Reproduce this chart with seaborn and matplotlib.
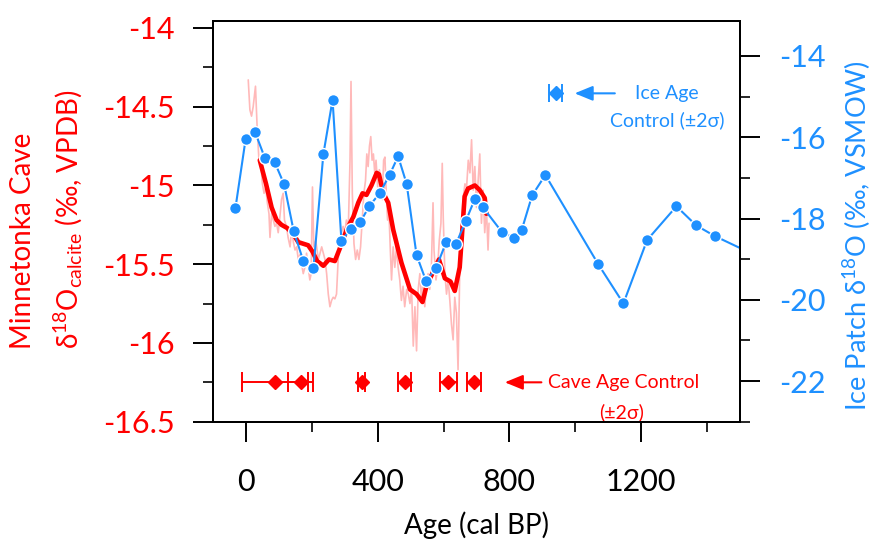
import numpy as np
import pandas as pd
import matplotlib
matplotlib.use("Agg")
import matplotlib.pyplot as plt
import seaborn as sns

sns.set_style("ticks")
plt.rcParams["font.family"] = ["Lato", "DejaVu Sans"]
plt.rcParams["axes.unicode_minus"] = False
plt.rcParams["mathtext.fontset"] = "custom"
plt.rcParams["mathtext.rm"] = "Lato"
plt.rcParams["mathtext.it"] = "Lato:italic"
plt.rcParams["mathtext.bf"] = "Lato:bold"
plt.rcParams["mathtext.sf"] = "Lato"
plt.rcParams["mathtext.fallback"] = "stixsans"

RED = "#FF0000"
PINK = "#FFB9B9"
BLUE = "#1E90FF"

# ---------------- data ----------------
cave_raw_age = [7, 12, 17, 22, 29, 34, 39, 45, 50, 55,
                60, 65, 70, 73, 78, 83, 88, 93, 98, 103,
                108, 113, 117, 123, 128, 134, 139, 144, 149, 154,
                159, 164, 169, 174, 179, 184, 189, 194, 198, 202,
                206, 212, 220, 225, 230, 235, 240, 245, 250, 255,
                260, 265, 270, 275, 280, 285, 290, 295, 300, 305,
                311, 316, 319, 323, 328, 333, 338, 343, 348, 353,
                358, 363, 367, 371, 375, 379, 383, 387, 391, 395,
                400, 405, 410, 414, 418, 422, 426, 430, 434, 438,
                442, 447, 452, 457, 462, 467, 472, 477, 482, 488,
                493, 498, 503, 508, 513, 518, 523, 528, 533, 538,
                543, 548, 553, 558, 563, 568, 571, 577, 582, 587,
                592, 596, 599, 604, 609, 614, 619, 624, 629, 634,
                639, 644, 649, 654, 659, 665, 670, 675, 680, 685,
                690, 695, 700, 705, 710, 715, 720, 725, 730, 735,
                738]
cave_raw_d18o = [-14.33, -14.52, -14.56, -14.50, -14.37, -14.63, -14.82, -14.86, -14.99, -15.05,
                 -15.01, -15.11, -15.18, -15.33, -15.18, -15.22, -15.26, -15.24, -15.30, -15.20,
                 -15.09, -15.05, -15.22, -15.26, -15.33, -15.39, -15.28, -15.36, -15.41, -15.39,
                 -15.47, -15.44, -15.50, -15.56, -15.52, -15.43, -15.52, -15.60, -15.56, -15.01,
                 -15.39, -15.35, -15.47, -15.43, -15.39, -15.43, -15.47, -15.56, -15.69, -15.77,
                 -15.73, -15.71, -15.72, -15.69, -15.47, -15.37, -15.30, -15.26, -15.30, -15.22,
                 -15.26, -14.84, -14.34, -15.05, -15.37, -15.47, -15.41, -15.47, -15.39, -15.22,
                 -15.05, -14.97, -14.80, -14.88, -14.75, -14.69, -14.84, -14.80, -14.92, -14.84,
                 -15.01, -14.90, -14.97, -15.09, -14.84, -14.82, -15.05, -15.22, -15.16, -15.39,
                 -15.60, -15.39, -15.52, -15.39, -15.52, -15.60, -15.73, -15.64, -15.77, -15.66,
                 -15.69, -15.75, -15.66, -16.02, -15.77, -16.05, -15.66, -15.56, -15.73, -15.60,
                 -15.77, -15.64, -15.56, -15.66, -15.52, -15.11, -15.41, -15.60, -15.52, -15.35,
                 -15.24, -14.86, -15.20, -15.56, -15.69, -15.60, -15.73, -15.88, -15.98, -15.71,
                 -15.81, -16.17, -15.56, -15.35, -15.09, -14.99, -15.01, -14.84, -14.92, -14.71,
                 -15.03, -14.88, -15.14, -14.97, -14.80, -15.24, -15.03, -15.30, -15.14, -15.41,
                 -15.24]

cave_smooth_age = [42, 61, 78, 93, 108, 125, 144, 159, 174, 189,
                   202, 216, 235, 252, 270, 285, 306, 326, 341, 354,
                   366, 381, 397, 404, 417, 432, 447, 472, 498, 518,
                   536, 548, 568, 586, 604, 621, 634, 649, 664, 674,
                   695, 710, 725, 730]
cave_smooth_d18o = [-14.84, -14.99, -15.14, -15.22, -15.25, -15.27, -15.31, -15.36, -15.37, -15.38,
                    -15.42, -15.48, -15.51, -15.47, -15.48, -15.40, -15.28, -15.20, -15.11, -15.05,
                    -15.06, -15.00, -14.92, -14.93, -15.05, -15.11, -15.28, -15.49, -15.66, -15.69,
                    -15.74, -15.64, -15.55, -15.47, -15.59, -15.61, -15.67, -15.52, -15.07, -15.02,
                    -15.00, -15.03, -15.08, -15.18]

ice_age = [-32, -1, 28, 57, 87, 116, 145, 174, 205, 235,
           263, 290, 318, 347, 375, 406, 436, 462, 488, 518,
           547, 577, 608, 638, 667, 695, 719, 777, 813, 837,
           869, 909, 1070, 1146, 1218, 1307, 1367, 1423, 1540]
ice_d18o = [-17.75, -16.05, -15.88, -16.50, -16.61, -17.16, -18.31, -19.04, -19.22, -16.42,
            -15.08, -18.56, -18.25, -18.09, -17.69, -17.38, -16.93, -16.47, -17.15, -18.90,
            -19.54, -19.22, -18.58, -18.62, -18.07, -17.52, -17.72, -18.33, -18.47, -18.29,
            -17.43, -16.93, -19.13, -20.09, -18.53, -17.70, -18.17, -18.43, -18.88]

cave_ctrl_age = [88, 167, 351, 482, 614, 693]
cave_ctrl_err = [99, 38, 11, 19, 26, 22]
cave_ctrl_level = -16.25
ice_ctrl_age = [941]
ice_ctrl_err = [20]
ice_ctrl_level = -14.92

left_ticks = [-16.5, -16, -15.5, -15, -14.5, -14]
left_ticklabels = ["-16.5", "-16", "-15.5", "-15", "-14.5", "-14"]
right_ticks = [-22, -20, -18, -16, -14]
x_ticks = [0, 400, 800, 1200]

raw = pd.DataFrame({"age": cave_raw_age, "d18o": cave_raw_d18o})
smooth = pd.DataFrame({"age": cave_smooth_age, "d18o": cave_smooth_d18o})
ice = pd.DataFrame({"age": ice_age, "d18o": ice_d18o})

# ---------------- figure ----------------
fig = plt.figure(figsize=(8.77, 5.42), dpi=100)
ax = fig.add_axes([213 / 877, 1 - 421.7 / 542, (740 - 213) / 877, (421.7 - 21) / 542])
ax2 = ax.twinx()

sns.lineplot(data=raw, x="age", y="d18o", ax=ax, color=PINK, lw=1.2,
             sort=False, estimator=None)
sns.lineplot(data=smooth, x="age", y="d18o", ax=ax, color=RED, lw=3.3,
             sort=False, estimator=None)
sns.lineplot(data=ice, x="age", y="d18o", ax=ax2, color=BLUE, lw=1.5,
             marker="o", markersize=8.5, markeredgecolor="white",
             markeredgewidth=1.0, sort=False, estimator=None)

# age control
ax.errorbar(cave_ctrl_age, [cave_ctrl_level] * len(cave_ctrl_age), xerr=cave_ctrl_err,
            fmt="D", color=RED, ms=7, capsize=7.5, elinewidth=1.4, capthick=1.4)
ax2.errorbar(ice_ctrl_age, [ice_ctrl_level], xerr=ice_ctrl_err,
             fmt="D", color=BLUE, ms=7, capsize=6.5, elinewidth=1.4, capthick=1.4)

ax.annotate("", xy=(786, cave_ctrl_level), xytext=(897, cave_ctrl_level),
            arrowprops=dict(arrowstyle="-|>,head_length=1.1,head_width=0.45",
                            color=RED, lw=1.5, shrinkA=0, shrinkB=0))
ax2.annotate("", xy=(998, ice_ctrl_level), xytext=(1120, ice_ctrl_level),
             arrowprops=dict(arrowstyle="-|>,head_length=1.1,head_width=0.45",
                             color=BLUE, lw=1.5, shrinkA=0, shrinkB=0))

ax.text(916, cave_ctrl_level, "Cave Age Control", color=RED, fontsize=14,
        ha="left", va="center")
ax.text(1140, -16.437, "(±2σ)", color=RED, fontsize=14, ha="center", va="center")
ax2.text(1277, ice_ctrl_level, "Ice Age", color=BLUE, fontsize=14, ha="center", va="center")
ax2.text(1280, -15.58, "Control (±2σ)", color=BLUE, fontsize=14, ha="center", va="center")

# axes limits and ticks
ax.set_xlim(-100, 1500)
ax.set_ylim(-16.5, -13.956)
ax2.set_ylim(-23.0, -13.14)

ax.set_xticks(x_ticks)
ax.set_xticks([200, 600, 1000, 1400], minor=True)
ax.set_yticks(left_ticks)
ax.set_yticklabels(left_ticklabels)
ax.set_yticks([-16.25, -15.75, -15.25, -14.75, -14.25], minor=True)
ax2.set_yticks(right_ticks)
ax2.set_yticklabels([str(t) for t in right_ticks])
ax2.set_yticks([-23, -21, -19, -17, -15], minor=True)

ax.set_xlabel("")
ax.set_ylabel("")
ax2.set_ylabel("")

ax.tick_params(axis="x", which="major", length=14.4, width=1.4, direction="out",
               pad=19, labelsize=22, colors="black", bottom=True)
ax.tick_params(axis="x", which="minor", length=7.2, width=1.4, direction="out", bottom=True)
ax.tick_params(axis="y", which="major", length=14.4, width=1.4, direction="out",
               pad=13, labelsize=22, labelcolor=RED, color="black", left=True)
ax.tick_params(axis="y", which="minor", length=7.2, width=1.4, direction="out", left=True)
ax2.tick_params(axis="y", which="major", length=14.4, width=1.4, direction="out",
                pad=14, labelsize=22, labelcolor=BLUE, color="black", right=True)
ax2.tick_params(axis="y", which="minor", length=7.2, width=1.4, direction="out", right=True)

for a in (ax, ax2):
    for s in a.spines.values():
        s.set_visible(True)
        s.set_color("black")
        s.set_linewidth(1.4)

# labels
fig.text(23.5 / 877, 1 - 349 / 542, "Minnetonka Cave", rotation=90, ha="center",
         va="bottom", color=RED, fontsize=20)
fig.text(68 / 877, 1 - 349 / 542,
         r"$\mathrm{\delta}^{18}$O$_{\mathrm{calcite}}$ (‰, VPDB)", rotation=90,
         ha="center", va="bottom", color=RED, fontsize=20)
fig.text(857 / 877, 1 - 236 / 542, r"Ice Patch $\mathrm{\delta}^{18}$O (‰, VSMOW)",
         rotation=90, ha="center", va="center", color=BLUE, fontsize=19.5)
fig.text(476.5 / 877, 1 - 525 / 542, "Age (cal BP)", ha="center", va="center",
         color="black", fontsize=20)

fig.savefig("out.png", dpi=100)
